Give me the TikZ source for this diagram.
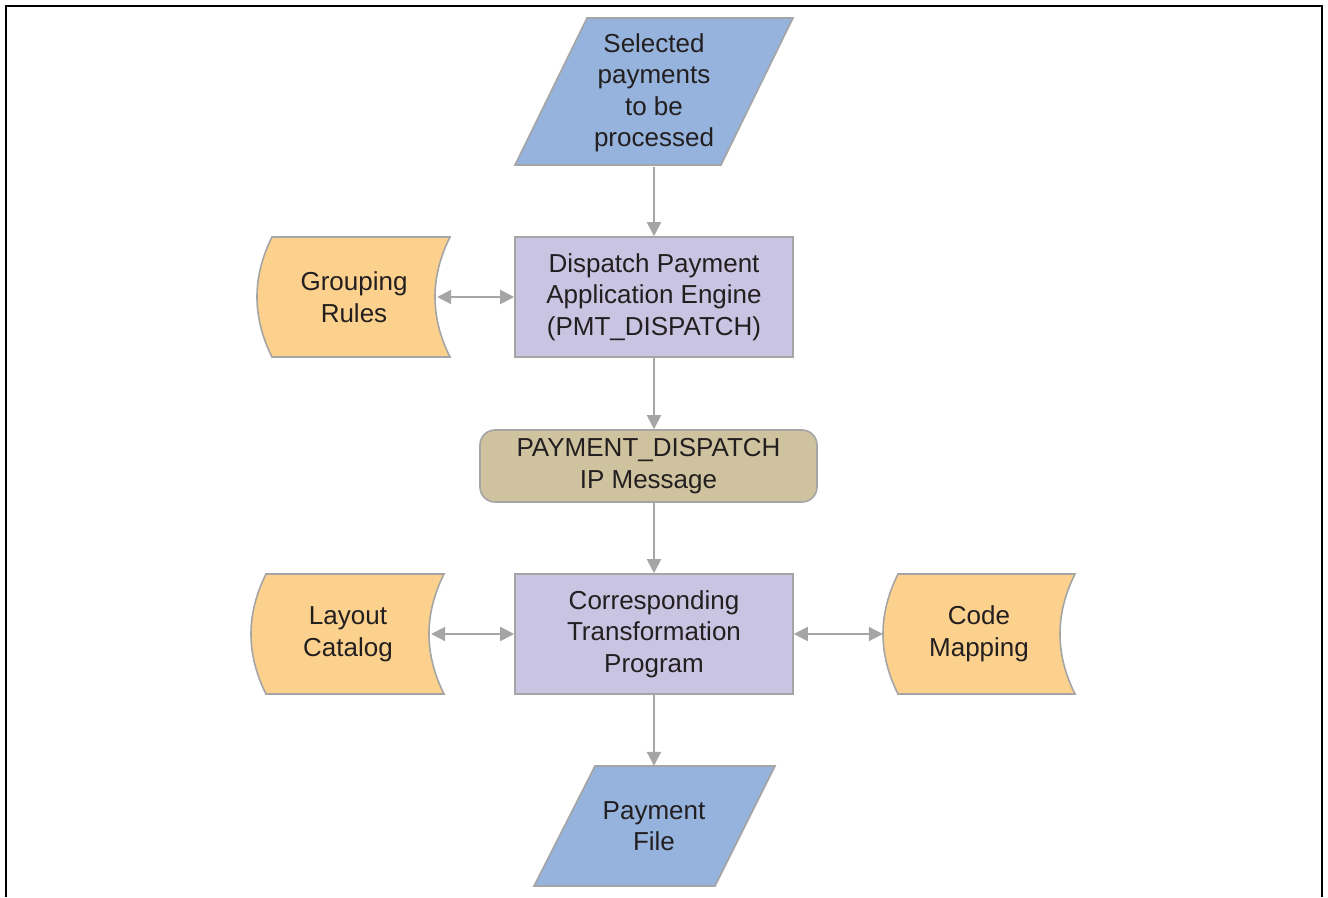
\documentclass[tikz,border=0pt]{standalone}
\usepackage{fontspec}
\setmainfont{Liberation Sans}
\usetikzlibrary{arrows.meta}
\definecolor{pblue}{HTML}{95B3DC}
\definecolor{plav}{HTML}{C8C4E1}
\definecolor{porange}{HTML}{FBD18D}
\definecolor{ptan}{HTML}{CFC29F}
\definecolor{pline}{HTML}{A5A5A5}
\definecolor{ptext}{HTML}{231F20}
\newcommand{\mystored}[5]{% xl, xr, top, bottom, fill
  \draw[shapeline,fill=#5] (#1,#3) -- (#2,#3)
    .. controls ({#2-20},{#3+40}) and ({#2-20},{#4-40}) .. (#2,#4)
    -- (#1,#4)
    .. controls ({#1-20},{#4-40}) and ({#1-20},{#3+40}) .. (#1,#3) -- cycle;}
\begin{document}
\begin{tikzpicture}[x=1pt,y=-1pt,
  shapeline/.style={draw=pline,line width=1.6pt},
  txt/.style={align=center,inner sep=0pt,text=ptext,font=\fontsize{26}{31.5}\selectfont},
  procbox/.style={txt,shapeline,fill=plav,minimum width=278pt,minimum height=120pt},
  msgbox/.style={txt,shapeline,fill=ptan,rounded corners=15pt,minimum width=337pt,minimum height=72pt},
  conn/.style={draw=pline,line width=2pt,-{Triangle[length=14pt,width=14pt]}},
  biconn/.style={draw=pline,line width=2pt,{Triangle[length=14pt,width=14pt]}-{Triangle[length=14pt,width=14pt]}}
]
\useasboundingbox (0,0) rectangle (1328,897);
% frame (open at the bottom)
\draw[line width=2pt,black] (6,897) -- (6,6) -- (1322,6) -- (1322,897);

% input parallelogram
\draw[shapeline,fill=pblue] (587,18) -- (793,18) -- (721,165) -- (515,165) -- cycle;
\node[txt,minimum width=278pt,minimum height=147pt] (sel) at (654,93) {Selected\\payments\\to be\\processed};

% dispatch engine
\node[procbox] (dpe) at (654,297) {Dispatch Payment\\Application Engine\\(PMT\_DISPATCH)};

% grouping rules
\mystored{272}{450}{237}{357}{porange}
\node[txt,minimum width=192pt,minimum height=120pt] (gr) at (354,297) {Grouping\\Rules};

% IP message
\node[msgbox] (ipm) at (648.5,466) {PAYMENT\_DISPATCH\\IP Message};

% transformation program
\node[procbox] (ctp) at (654,634) {Corresponding\\Transformation\\Program};

% layout catalog
\mystored{266}{444}{574}{694}{porange}
\node[txt,minimum width=192pt,minimum height=120pt] (lc) at (348,634) {Layout\\Catalog};

% code mapping
\mystored{898}{1075}{574}{694}{porange}
\node[txt,minimum width=192pt,minimum height=120pt] (cm) at (979,634) {Code\\Mapping};

% payment file parallelogram
\draw[shapeline,fill=pblue] (595,766) -- (775,766) -- (715,886) -- (534,886) -- cycle;
\node[txt,minimum width=240pt,minimum height=120pt] (pf) at (654,826) {Payment\\File};

% connectors
\draw[conn] (sel.south) -- (dpe.north);
\draw[conn] (dpe.south) -- (dpe.south |- ipm.north);
\draw[conn] (dpe.south |- ipm.south) -- (ctp.north);
\draw[conn] (ctp.south) -- (ctp.south |- pf.north);
\draw[biconn] ([xshift=-13pt]gr.east) -- (dpe.west);
\draw[biconn] ([xshift=-13pt]lc.east) -- (ctp.west);
\draw[biconn] (ctp.east) -- (cm.west);
\end{tikzpicture}
\end{document}
